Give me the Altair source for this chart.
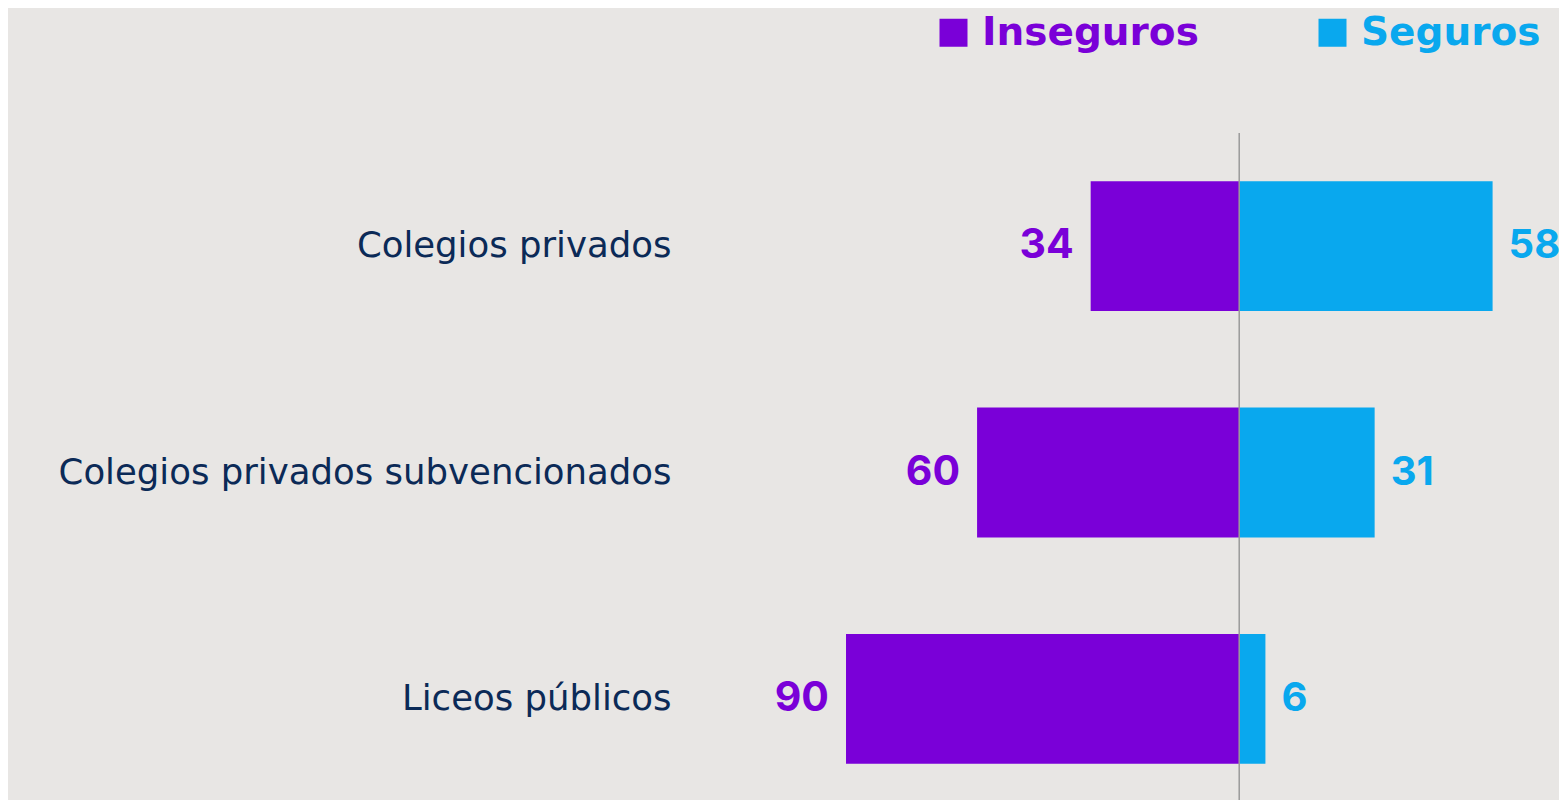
import altair as alt
import pandas as pd

categories = ["Colegios privados", "Colegios privados subvencionados", "Liceos públicos"]
inseguros = [34, 60, 90]
seguros = [58, 31, 6]
groups = ["Inseguros", "Seguros"]
colors = ["#7a00d8", "#09a8ee"]

rows = []
for c, a, b in zip(categories, inseguros, seguros):
    rows.append({"cat": c, "grupo": "Inseguros", "valor": a, "signed": -a})
    rows.append({"cat": c, "grupo": "Seguros", "valor": b, "signed": b})
df = pd.DataFrame(rows)

FONT = "Inter"
LABEL_FONT = "DejaVu Sans"
x_scale = alt.Scale(domain=[-128, 73.2], nice=False, zero=False)
y_scale = alt.Scale(domain=categories, range=[0, 679], paddingInner=0.426, paddingOuter=0.213)
color_scale = alt.Scale(domain=groups, range=colors)

base = alt.Chart(df)

bars = base.mark_bar().encode(
    x=alt.X("signed:Q", scale=x_scale, axis=None),
    y=alt.Y("cat:N", scale=y_scale, sort=categories,
            axis=alt.Axis(title=None, domain=False, ticks=False, labelFontSize=35.5,
                          labelFont=LABEL_FONT, labelColor="#0b2a57", labelPadding=9,
                          labelLimit=0, grid=False)),
    color=alt.Color("grupo:N", scale=color_scale,
                    legend=alt.Legend(title=None, orient="none", direction="horizontal",
                                      legendX=254, legendY=-120, symbolType="square",
                                      symbolSize=784, symbolStrokeWidth=0, symbolOpacity=1,
                                      labelFontSize=39, labelFont=LABEL_FONT, labelFontWeight="bold",
                                      labelColor=alt.ExprRef("datum.label == 'Inseguros' ? '#7a00d8' : '#09a8ee'"),
                                      labelOffset=9, columnPadding=114, padding=0,
                                      labelLimit=0)),
)

left_text = alt.Chart(df[df.grupo == "Inseguros"]).mark_text(
    align="right", baseline="middle", dx=-17, fontSize=41, fontWeight="bold", font=FONT,
    color=colors[0]
).encode(
    x=alt.X("signed:Q", scale=x_scale),
    y=alt.Y("cat:N", scale=y_scale, sort=categories),
    text="valor:Q",
)
right_text = alt.Chart(df[df.grupo == "Seguros"]).mark_text(
    align="left", baseline="middle", dx=16, fontSize=40, fontWeight="bold", font=FONT,
    color=colors[1]
).encode(
    x=alt.X("signed:Q", scale=x_scale),
    y=alt.Y("cat:N", scale=y_scale, sort=categories),
    text="valor:Q",
)

rule = alt.Chart(pd.DataFrame({"z": [0]})).mark_rule(color="#9a9a9a", strokeWidth=1.5).encode(
    x=alt.X("z:Q", scale=x_scale)
)

chart = alt.layer(bars, rule, left_text, right_text).properties(
    width=879, height=667,
    autosize=alt.AutoSizeParams(type="none"),
    padding={"left": 672, "top": 125, "right": 0, "bottom": 0},
    background="#e8e6e4",
).configure_view(stroke=None)

chart.save("out.html", embed_options={"renderer": "svg", "actions": False})
